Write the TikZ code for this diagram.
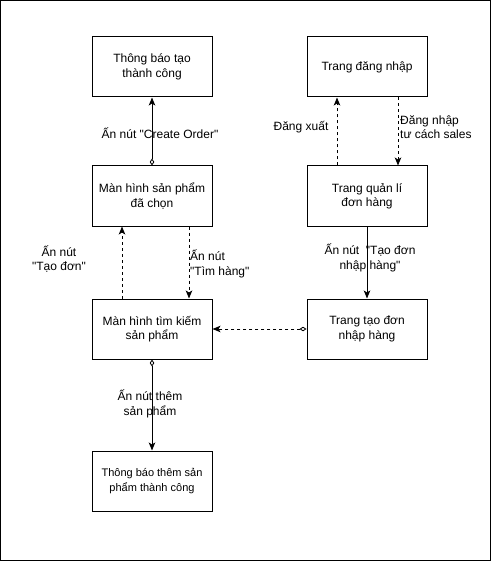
\documentclass[tikz,border=0pt]{standalone}
\usepackage{fontspec}
\setmainfont{Liberation Sans}[Ligatures=TeXOff]
\usepackage{tikz}
\usetikzlibrary{arrows.meta,positioning}
\tikzset{
  box/.style={draw,line width=1pt,minimum width=120pt,minimum height=60pt,inner sep=0pt,align=center,font=\fontsize{12}{14.4}\selectfont},
  lbl/.style={inner sep=0pt,align=center,font=\fontsize{12}{14.4}\selectfont},
  arr/.style={line width=1pt,-{Stealth[length=8pt,width=6.5pt,inset=2pt]}},
  darr/.style={arr,dash pattern=on 3pt off 3pt},
  dia/.style={{Diamond[open,length=7pt,width=4.5pt,line width=0.8pt]}-{Stealth[length=8pt,width=6.5pt,inset=2pt]}}
}
\begin{document}
\begin{tikzpicture}[x=1pt,y=-1pt]
    \draw[line width=1pt] (0.5,0.5) rectangle (490.5,560.5);
    % left column
    \node[box] (thongbaotao) at (152,67) {Thông báo tạo\\thành công};
    \node[box] (spdachon) at (152,196) {Màn hình sản phẩm\\đã chọn};
    \node[box] (timkiem) at (152,329) {Màn hình tìm kiếm\\sản phẩm};
    \node[box,font=\fontsize{11}{14.4}\selectfont] (thongbaothem) at (152,481) {Thông báo thêm sản\\phẩm thành công};
    % right column
    \node[box] (dangnhap) at (367,67) {Trang đăng nhập};
    \node[box] (quanli) at (367,196) {Trang quản lí\\đơn hàng};
    \node[box] (taodon) at (367,329) {Trang tạo đơn\\nhập hàng};
    % connectors
    \draw[arr,dia] (spdachon) -- (thongbaotao);
    \node[lbl] (lblorder) at (160,133) {Ấn nút "Create Order"};
    \draw[darr] ([xshift=-30pt]timkiem.north) -- ([xshift=-30pt]spdachon.south);
    \node[lbl] (lbltao) at (59,259) {Ấn nút\\"Tạo đơn"};
    \draw[darr] ([xshift=37pt]spdachon.south) -- ([xshift=37pt]timkiem.north);
    \node[lbl,anchor=west,align=left] (lbltim) at (190,264) {Ấn nút\\"Tìm hàng"};
    \draw[darr] ([xshift=-30pt]quanli.north) -- ([xshift=-30pt]dangnhap.south);
    \node[lbl] (lblxuat) at (301,127) {Đăng xuất};
    \draw[darr] ([xshift=31pt]dangnhap.south) -- ([xshift=31pt]quanli.north);
    \node[lbl,anchor=west,align=left] (lblsales) at (400,127) {Đăng nhập\\tư cách sales};
    \draw[arr] (quanli) -- (taodon);
    \node[lbl] (lblnhap) at (370,258) {Ấn nút \ "Tạo đơn\\nhập hàng"};
    \draw[darr,dia,dash pattern=on 3pt off 3pt] (taodon) -- (timkiem);
    \draw[arr,dia] (timkiem) -- (thongbaothem);
    \node[lbl] (lblthem) at (150,404) {Ấn nút thêm\\sản phẩm};
\end{tikzpicture}
\end{document}
